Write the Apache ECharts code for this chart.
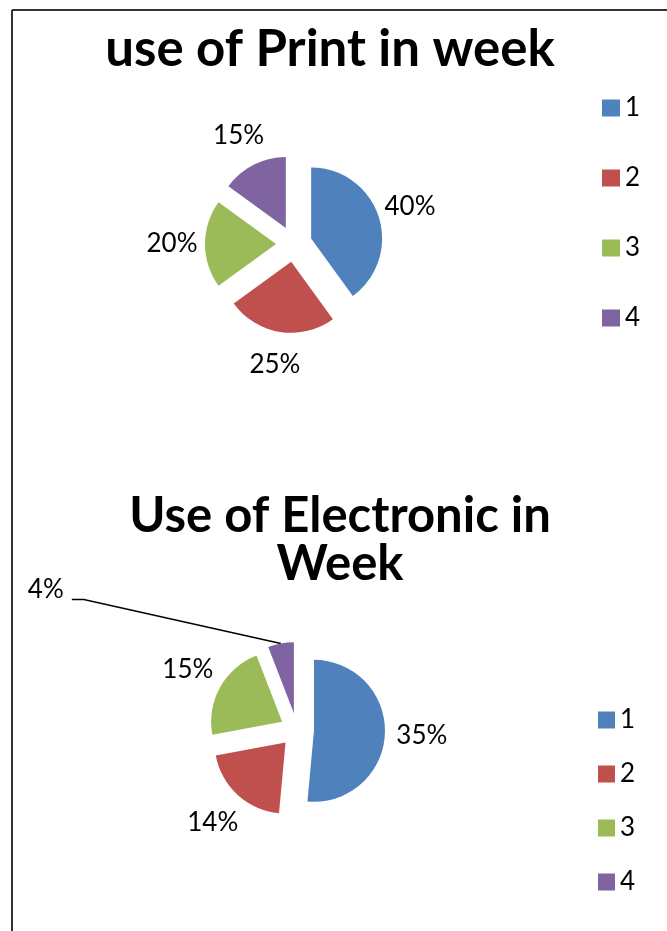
<!DOCTYPE html>
<html>
<head>
<meta charset="utf-8">
<script src="https://cdn.jsdelivr.net/npm/echarts@6/dist/echarts.min.js"></script>
<style>
html,body{margin:0;padding:0;background:#fff;}
#chart{width:667px;height:931px;}
</style>
</head>
<body>
<div id="chart"></div>
<script>
var categories = ['1', '2', '3', '4'];
var printValues = [40, 25, 20, 15];
var electronicValues = [35, 14, 15, 4];
var colors = ['#4F81BD', '#C0504D', '#9BBB59', '#8064A2'];
var titlePrint = 'use of Print in week';
var titleElectronic = 'Use of Electronic in\nWeek';

var FONT = 'Lato';
var PIE_R = 71;
var printCenter = [294, 244];
var elecCenter = [297, 730];
var EXPLODE = 17;

function mainData(values) {
  return categories.map(function (c, i) {
    return { name: c, value: values[i], selected: true };
  });
}
function ringData(values) {
  return categories.map(function (c, i) {
    return { name: c, value: values[i] };
  });
}

var labelStyle = { fontFamily: FONT, fontSize: 26, color: '#000' };

var elecRing = ringData(electronicValues);
// small slice label was dragged away in the original, with a leader line
elecRing[3].label = { show: true, position: 'outside' };
elecRing[3].labelLine = { show: true, length: 10, length2: 10, lineStyle: { color: '#000', width: 1.5 } };

var chart = echarts.init(document.getElementById('chart'), null, { renderer: 'canvas' });

chart.setOption({
  animation: false,
  color: colors,
  backgroundColor: '#fff',
  graphic: [
    { type: 'line', shape: { x1: 12, y1: 10, x2: 12, y2: 931 }, style: { stroke: '#333', lineWidth: 2 } },
    { type: 'line', shape: { x1: 12, y1: 10, x2: 667, y2: 10 }, style: { stroke: '#333', lineWidth: 2 } }
  ],
  title: [
    { text: titlePrint, left: 330, top: 25, textAlign: 'center', padding: 0,
      textStyle: { fontFamily: FONT, fontSize: 51, fontWeight: 'bold', color: '#000', lineHeight: 50 } },
    { text: titleElectronic, left: 340, top: 492, textAlign: 'center', padding: 0,
      textStyle: { fontFamily: FONT, fontSize: 49, fontWeight: 'bold', color: '#000', lineHeight: 48 } }
  ],
  legend: [
    { data: categories, orient: 'vertical', left: 602, top: 95, itemWidth: 18, itemHeight: 17, itemGap: 44,
      icon: 'rect', padding: 0, textStyle: { fontFamily: FONT, fontSize: 26, color: '#000', lineHeight: 24 }, selectedMode: false },
    { data: categories, orient: 'vertical', left: 598, top: 707, itemWidth: 17, itemHeight: 17, itemGap: 28,
      icon: 'rect', padding: 0, textStyle: { fontFamily: FONT, fontSize: 26, color: '#000', lineHeight: 24 }, selectedMode: false }
  ],
  series: [
    { type: 'pie', center: printCenter, radius: PIE_R, startAngle: 90, clockwise: true,
      selectedMode: 'multiple', selectedOffset: 18, label: { show: false }, labelLine: { show: false },
      emphasis: { disabled: true }, data: mainData(printValues) },
    { type: 'pie', center: printCenter, radius: [98, 140], startAngle: 90, clockwise: true, silent: true,
      itemStyle: { color: 'transparent' }, emphasis: { disabled: true },
      label: Object.assign({ show: true, position: 'inside', formatter: '{c}%' }, labelStyle),
      labelLine: { show: false }, data: ringData(printValues) },
    { type: 'pie', center: elecCenter, radius: PIE_R, startAngle: 90, clockwise: true,
      selectedMode: 'multiple', selectedOffset: EXPLODE, label: { show: false },
      labelLine: { show: false }, emphasis: { disabled: true }, data: mainData(electronicValues) },
    { type: 'pie', center: elecCenter, radius: [102, 142], startAngle: 90, clockwise: true, silent: true,
      itemStyle: { color: 'transparent' }, emphasis: { disabled: true },
      label: Object.assign({ show: true, position: 'inside', formatter: '{c}%' }, labelStyle),
      labelLine: { show: false }, data: elecRing,
      labelLayout: function (p) {
        if (p.dataIndex !== 3 || !p.labelLinePoints) return {};
        var a = p.labelLinePoints[0];
        var vx = a[0] - elecCenter[0], vy = a[1] - elecCenter[1];
        var l = Math.sqrt(vx * vx + vy * vy);
        var R = PIE_R + EXPLODE;
        var s = [elecCenter[0] + vx / l * R, elecCenter[1] + vy / l * R];
        return { x: s[0] - 235, y: s[1] - 54, align: 'center', verticalAlign: 'middle',
          labelLinePoints: [s, [s[0] - 197, s[1] - 44], [s[0] - 209, s[1] - 44]] };
      } }
  ]
});
</script>
</body>
</html>
